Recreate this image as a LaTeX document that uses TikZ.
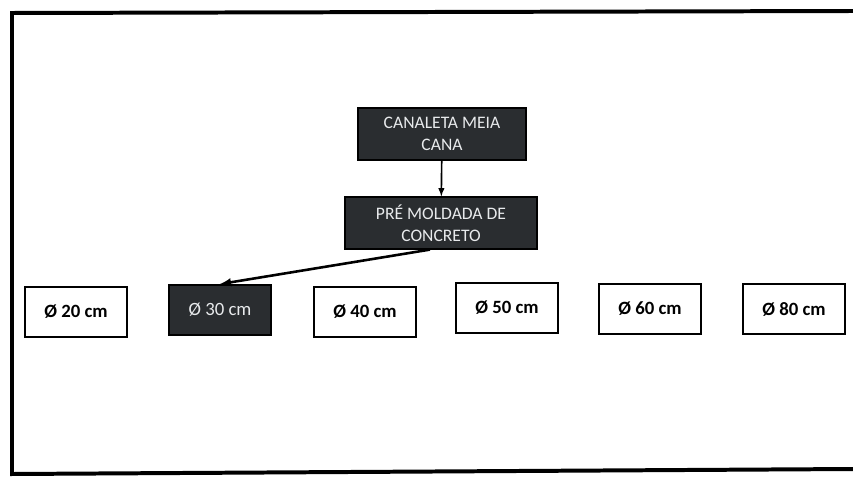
\documentclass[tikz,border=0pt]{standalone}
\usepackage{fontspec}
\setmainfont{Carlito}
\usepackage{tikz}
\tikzset{>=latex}
\usetikzlibrary{arrows.meta}
\definecolor{boxdark}{RGB}{42,45,48}
\definecolor{boxtext}{RGB}{232,234,236}

\begin{document}
\begin{tikzpicture}[x=0.03cm, y=-0.03cm]
            \tikzset{dark box/.style={fill=boxdark, draw=black, line width=1pt, inner sep=0pt, text=boxtext, align=center, font={\fontsize{15}{19}\selectfont}}};
            \tikzset{size box/.style={draw=black, line width=1.6pt, fill=white, inner sep=0pt, minimum width=3.06cm, minimum height=1.5cm, font={\fontsize{16}{18}\selectfont\bfseries}}};
            \tikzset{arrow/.style={->, black, line width=1.4pt}}
            \useasboundingbox (0, 0) rectangle (853, 480);
            % Frame
            \draw[line width=3.4pt] (853, 11) -- (12, 13) -- (12, 474) -- (853, 469);
            % Top level
            \node[dark box, minimum width=5.04cm, minimum height=1.56cm] (canaleta) at (442, 134) {CANALETA MEIA\\CANA};
            \node[dark box, minimum width=5.76cm, minimum height=1.56cm] (premoldada) at (441, 223) {PRÉ MOLDADA DE\\CONCRETO};
            % Diameters
            \node[size box] (d20) at (76, 312) {Ø 20 cm};
            \node[size box, fill=boxdark, text=boxtext, font={\fontsize{16}{18}\selectfont}] (d30) at (220, 310) {Ø 30 cm};
            \node[size box] (d40) at (365, 312) {Ø 40 cm};
            \node[size box] (d50) at (507, 308) {Ø 50 cm};
            \node[size box] (d60) at (650, 309) {Ø 60 cm};
            \node[size box] (d80) at (794, 309) {Ø 80 cm};
            % Connectors
            \draw[arrow] (canaleta) -- (premoldada);
            \draw[arrow, line width=2.2pt] (premoldada.south) ++(-11, 0) coordinate (start) (start) -- (d30.north);
\end{tikzpicture}
\end{document}
